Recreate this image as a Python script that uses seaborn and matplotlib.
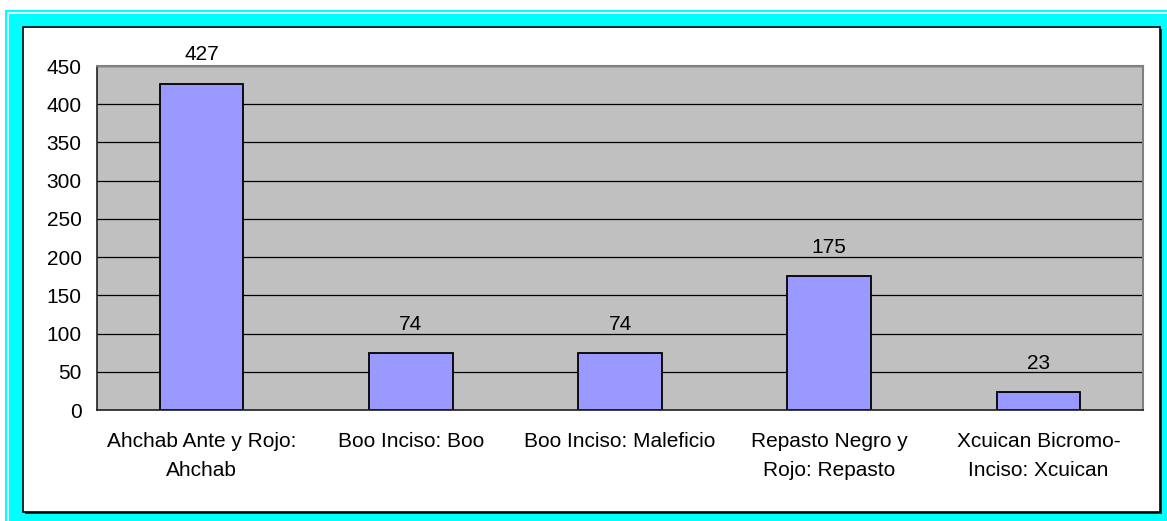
import pandas as pd
import numpy as np
import matplotlib.pyplot as plt
import seaborn as sns
from matplotlib.patches import Rectangle

categorias = ['Ahchab Ante y Rojo:\nAhchab', 'Boo Inciso: Boo', 'Boo Inciso: Maleficio',
              'Repasto Negro y\nRojo: Repasto', 'Xcuican Bicromo-\nInciso: Xcuican']
valores = [427, 74, 74, 175, 23]
yticks = [0, 50, 100, 150, 200, 250, 300, 350, 400, 450]

df = pd.DataFrame({'Tipo': categorias, 'Cantidad': valores})

sns.set_style('white')
plt.rcParams['font.family'] = ['Liberation Sans', 'DejaVu Sans']
plt.rcParams['text.color'] = 'black'
plt.rcParams['xtick.labelcolor'] = 'black'
plt.rcParams['ytick.labelcolor'] = 'black'

W, H = 1167, 521
fig = plt.figure(figsize=(W / 100, H / 100), dpi=100)
fig.patch.set_facecolor('white')

def px_rect(x0, y0, x1, y1, **kw):
    # rectangle en pixels (origine en haut a gauche), sous les axes
    r = Rectangle((x0 / W, 1 - y1 / H), (x1 - x0) / W, (y1 - y0) / H,
                  transform=fig.transFigure, zorder=-1, **kw)
    fig.patches.append(r)

# cadre cyan avec filet blanc
px_rect(5, 10, W, H, facecolor='#00FFFF', edgecolor='none')
px_rect(8, 13, W + 5, H + 5, facecolor='none', edgecolor='white', linewidth=1.2)
# ombre + zone du graphique
px_rect(25, 29, 1162, 514, facecolor='#303030', edgecolor='none')
px_rect(23, 27, 1160, 512, facecolor='white', edgecolor='black', linewidth=1.2)

ax = fig.add_axes([97 / W, 1 - 410 / H, (1143 - 97) / W, (410 - 66) / H])
ax.set_zorder(1)
ax.set_facecolor('#C0C0C0')

sns.barplot(data=df, x='Tipo', y='Cantidad', color='#9999FF', saturation=1,
            edgecolor='black', linewidth=1.3, width=0.4, ax=ax)

for c in ax.containers:
    ax.bar_label(c, padding=14, fontsize=15, color='black')

ax.set_ylim(0, 450)
ax.set_xlim(-0.5, 4.5)
ax.set_yticks(yticks)
ax.set_axisbelow(True)
ax.yaxis.grid(True, color='black', linewidth=0.9)
ax.set_xlabel('')
ax.set_ylabel('')

ax.set_xticks(range(len(categorias)))
ax.set_xticklabels(categorias, fontsize=15, linespacing=1.65)
ax.set_xticks(np.arange(-0.5, 5, 1), minor=True)
ax.tick_params(axis='x', which='major', length=0, pad=16)
ax.tick_params(axis='x', which='minor', length=6, width=1, color='#404040', direction='out')
ax.tick_params(axis='y', length=5, width=1, color='black', direction='out', pad=6, labelsize=15)

for s in ['left', 'bottom']:
    ax.spines[s].set_color('#202020')
    ax.spines[s].set_linewidth(1.2)
for s in ['top', 'right']:
    ax.spines[s].set_color('#808080')
    ax.spines[s].set_linewidth(1.5)

plt.savefig('out.png', dpi=100)
